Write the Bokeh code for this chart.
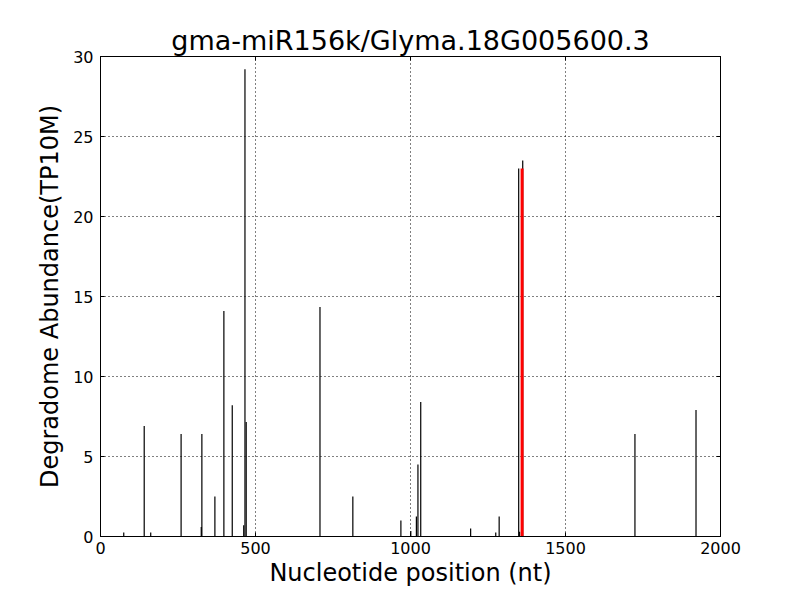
from bokeh.plotting import figure
from bokeh.models import Range1d, LinearAxis, FixedTicker
from bokeh.embed import file_html
from bokeh.resources import INLINE

positions = [75, 141, 162, 260, 325, 327, 369, 398, 425, 462, 466, 470, 708, 814,
             969, 1001, 1019, 1024, 1033, 1194, 1275, 1286, 1349, 1352, 1362, 1724, 1921]
abundance = [0.25, 6.9, 0.25, 6.4, 0.6, 6.4, 2.5, 14.1, 8.2, 0.7, 29.2, 7.15, 14.35, 2.5,
             1.0, 0.35, 1.25, 4.5, 8.4, 0.5, 0.25, 1.25, 23.0, 0.3, 23.5, 6.4, 7.9]
target_pos = [1360]
target_val = [23.0]
x_ticks = [0, 500, 1000, 1500, 2000]
y_ticks = [0, 5, 10, 15, 20, 25, 30]

FONT = "DejaVu Sans"

p = figure(width=784, height=584, output_backend="svg", toolbar_location=None,
           x_range=Range1d(0, 2000), y_range=Range1d(0, 30),
           title="gma-miR156k/Glyma.18G005600.3",
           min_border_left=100, min_border_right=64, min_border_top=56, min_border_bottom=48)
p.frame_width = 620
p.frame_height = 480

p.title.align = "center"
p.title.text_font = FONT
p.title.text_font_size = "27px"
p.title.text_font_style = "normal"
p.title.text_color = "black"
p.title.standoff = 2
p.title.offset = 0

p.outline_line_color = "black"
p.outline_line_width = 1
p.outline_line_alpha = 1

p.segment(x0=positions, y0=[0] * len(positions), x1=positions, y1=abundance,
          line_color="black", line_width=1.2)
p.segment(x0=target_pos, y0=[0], x1=target_pos, y1=target_val,
          line_color="red", line_width=3)

for ax in p.xaxis:
    ax.ticker = FixedTicker(ticks=x_ticks)
    ax.axis_label = "Nucleotide position (nt)"
for ax in p.yaxis:
    ax.ticker = FixedTicker(ticks=y_ticks)
    ax.axis_label = "Degradome Abundance(TP10M)"

for ax in list(p.xaxis) + list(p.yaxis):
    ax.axis_label_text_font = FONT
    ax.axis_label_text_font_size = "24px"
    ax.axis_label_text_font_style = "normal"
    ax.axis_label_text_color = "black"
    ax.major_label_text_font = FONT
    ax.major_label_text_font_size = "16px"
    ax.major_label_text_color = "black"
    ax.major_tick_in = 4
    ax.major_tick_out = 0
    ax.minor_tick_line_color = None
    ax.axis_line_color = "black"
    ax.major_tick_line_color = "black"
p.xaxis.major_label_standoff = 5
p.yaxis.major_label_standoff = 7
p.xaxis.axis_label_standoff = 2
p.yaxis.axis_label_standoff = 6

top = LinearAxis(ticker=FixedTicker(ticks=x_ticks), major_label_text_font_size="0px",
                 major_tick_in=4, major_tick_out=0, minor_tick_line_color=None,
                 major_label_text_color=None, major_label_standoff=0)
right = LinearAxis(ticker=FixedTicker(ticks=y_ticks), major_label_text_font_size="0px",
                   major_tick_in=4, major_tick_out=0, minor_tick_line_color=None,
                   major_label_text_color=None, major_label_standoff=0)
p.add_layout(top, "above")
p.add_layout(right, "right")

p.xgrid.ticker = FixedTicker(ticks=x_ticks)
p.ygrid.ticker = FixedTicker(ticks=y_ticks)
for g in (p.xgrid, p.ygrid):
    g.grid_line_color = "black"
    g.grid_line_dash = "1 3"
    g.grid_line_width = 1
    g.grid_line_alpha = 1

open("out.html", "w").write(file_html(p, INLINE))
